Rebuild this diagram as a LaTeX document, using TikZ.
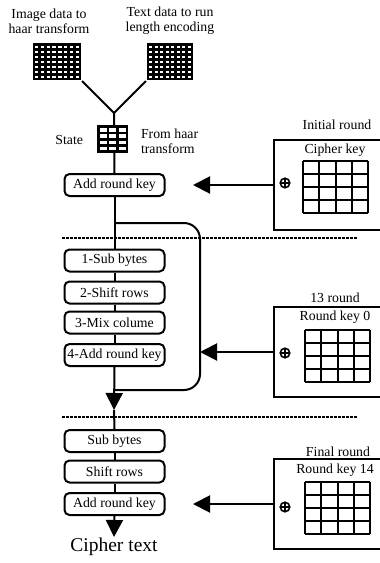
\documentclass[tikz,border=0pt]{standalone}
\usepackage{fontspec}
\setmainfont{Liberation Serif}
\usetikzlibrary{arrows.meta}

% 4x4 key matrix, drawn from its top left corner
\tikzset{
  keygrid/.pic={
    \foreach \k in {0,...,4} {
      \draw (\k*16.25,0) -- (\k*16.25,52);
      \draw (0,\k*13) -- (65,\k*13);
    }
  },
}

\begin{document}
\begin{tikzpicture}[x=1pt,y=-1pt,line width=2pt,
  font=\fontsize{13.8}{15}\selectfont,
  stage/.style={draw,rounded corners=5pt,minimum width=100pt,minimum height=22pt,inner sep=0pt},
  lbl/.style={inner sep=0pt,align=center},
  keybox/.style={draw,anchor=north west,minimum width=125pt,minimum height=90pt,inner sep=0pt},
  pixels/.style={fill=black,inner sep=0pt},
  xorsym/.style={circle,draw,line width=1.6pt,minimum size=9.5pt,inner sep=0pt,
    path picture={\draw[line width=1.6pt] (path picture bounding box.north) -- (path picture bounding box.south)
      (path picture bounding box.west) -- (path picture bounding box.east);}},
  flow/.style={-{Triangle[length=17pt,width=17pt]}},
  roundsep/.style={line width=2.5pt,dash pattern=on 3pt off 1pt},
]
  \useasboundingbox (0,0) rectangle (380,563);
  \clip (0,0) rectangle (380,563);

  % input data
  \node[lbl] (imglbl) at (49,21) {Image data to\\haar transform};
  \node[lbl] (txtlbl) at (170,21) {Text data to run\\length encoding};
  \node[pixels,minimum width=48pt,minimum height=37pt] (imgdata) at (57,61.5) {};
  \node[pixels,minimum width=46pt,minimum height=37pt] (txtdata) at (170,61.5) {};
  \foreach \i in {0,...,7}
    \foreach \j in {0,...,6} {
      \fill[white] (35+\i*5.8,45.5+\j*5) rectangle ++(3.4,2.4);
      \fill[white] (149+\i*5.5,45.5+\j*5) rectangle ++(3.2,2.4);
    }

  \coordinate (join) at (114,113);
  \draw (imgdata.south east) -- (join) -- (txtdata.south west);

  % initial round
  \node[stage] (ark0) at (114.5,185) {Add round key};
  \draw (join) -- (ark0.north);
  \node[pixels,minimum width=31pt,minimum height=28pt] (state) at (112.5,139) {};
  \foreach \i in {0,...,2}
    \foreach \j in {0,...,3}
      \fill[white] (99.5+\i*9.5,128+\j*6.3) rectangle ++(7,3.5);
  \node[lbl,anchor=east] (statelbl) at (84,140) {State};
  \node[lbl,anchor=west,align=left] (fromlbl) at (140,141) {From haar\\transform};

  \draw[roundsep] (62,238) -- (358,238);

  % main rounds
  \node[stage] (sb1) at (114.5,260.5) {1-Sub bytes};
  \node[stage] (sr1) at (114.5,292.5) {2-Shift rows};
  \node[stage] (mc1) at (114.5,322.5) {3-Mix colume};
  \node[stage] (ark1) at (114.5,355) {4-Add round key};
  \coordinate (loopin) at (114,223);
  \coordinate (loopout) at (114,390);
  \coordinate (loopright) at (200,223);
  \coordinate (gap) at (114,410);
  \draw (ark0.south) -- (sb1.north);
  \draw (sb1) -- (sr1) (sr1) -- (mc1) (mc1) -- (ark1);
  \draw[rounded corners=16pt] (loopin) -- (loopright) -- (loopright |- loopout) -- (loopout);
  \draw[flow] (ark1.south) -- (gap);

  \draw[roundsep] (62,417) -- (358,417);

  % final round
  \node[stage] (sbf) at (114.5,441) {Sub bytes};
  \node[stage] (srf) at (114.5,471.5) {Shift rows};
  \node[stage] (arkf) at (114.5,504) {Add round key};
  \node[lbl,anchor=north,font=\fontsize{19.5}{21}\selectfont] (ctext) at (114,537) {Cipher text};
  \draw (gap) -- (sbf.north);
  \draw (sbf) -- (srf) (srf) -- (arkf);
  \draw[flow] (arkf.south) -- (ctext.north);

  % round keys
  \node[lbl] (initlbl) at (337,125) {Initial round};
  \node[keybox] (initbox) at (273,139) {};
  \node[lbl] (cipherkey) at (335,150) {Cipher key};
  \pic at (303,161) {keygrid};
  \node[xorsym] (xor0) at (285,183) {};
  \draw[flow] (initbox.west) -- ++(-80,0);

  \node[lbl] (midlbl) at (335,298) {13 round};
  \node[keybox] (midbox) at (273,306) {};
  \node[lbl] (key0) at (335,317) {Round key 0};
  \pic at (305,330) {keygrid};
  \node[xorsym] (xor1) at (285,353) {};
  \draw[flow] (midbox.west) -- (midbox.west -| loopright);

  \node[lbl] (finallbl) at (338,452) {Final round};
  \node[keybox] (finalbox) at (273,458) {};
  \node[lbl] (key14) at (335,470) {Round key 14};
  \pic at (305,482) {keygrid};
  \node[xorsym] (xor2) at (285,507) {};
  \draw[flow] (finalbox.west) -- ++(-80,0);
\end{tikzpicture}
\end{document}
